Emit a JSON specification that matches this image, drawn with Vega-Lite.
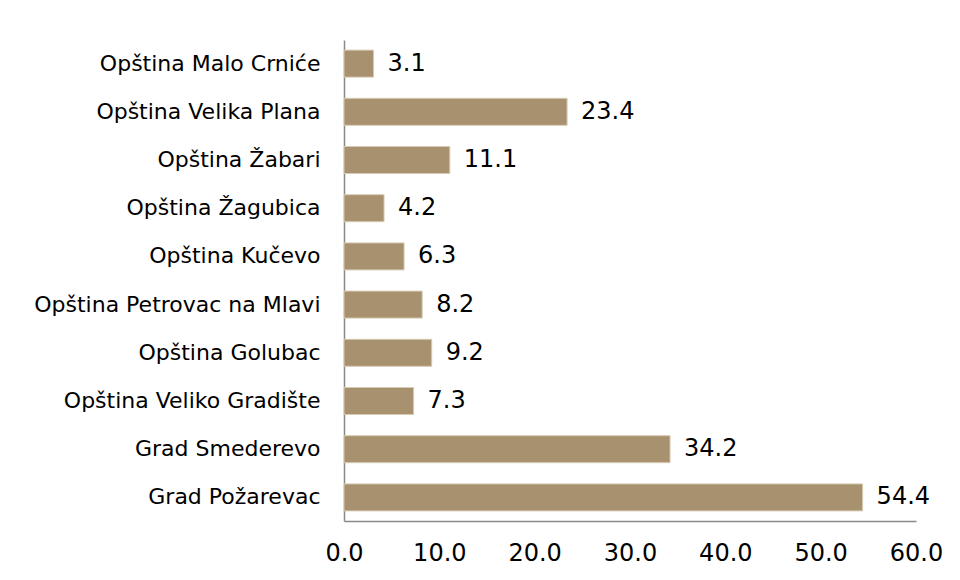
{
  "$schema": "https://vega.github.io/schema/vega-lite/v6.json",
  "width": 572,
  "height": 481,
  "autosize": {"type": "none"},
  "padding": {"left": 344, "top": 40, "right": 44, "bottom": 59},
  "background": "white",
  "data": {
    "values": [
      {"name": "Opština Malo Crniće", "value": 3.1},
      {"name": "Opština Velika Plana", "value": 23.4},
      {"name": "Opština Žabari", "value": 11.1},
      {"name": "Opština Žagubica", "value": 4.2},
      {"name": "Opština Kučevo", "value": 6.3},
      {"name": "Opština Petrovac na Mlavi", "value": 8.2},
      {"name": "Opština Golubac", "value": 9.2},
      {"name": "Opština Veliko Gradište", "value": 7.3},
      {"name": "Grad Smederevo", "value": 34.2},
      {"name": "Grad Požarevac", "value": 54.4}
    ]
  },
  "encoding": {
    "y": {
      "field": "name",
      "type": "nominal",
      "sort": null,
      "scale": {"paddingInner": 0.44, "paddingOuter": 0.21},
      "axis": {
        "title": null,
        "ticks": false,
        "domainColor": "#888888",
        "domainWidth": 1.5,
        "labelFont": "DejaVu Sans",
        "labelFontSize": 22,
        "labelFontWeight": "normal",
        "labelColor": "#000000",
        "labelPadding": 24,
        "labelLimit": 400
      }
    },
    "x": {
      "field": "value",
      "type": "quantitative",
      "scale": {"domain": [0, 60], "nice": false},
      "axis": {
        "title": null,
        "values": [0, 10, 20, 30, 40, 50, 60],
        "format": ".1f",
        "grid": false,
        "ticks": false,
        "labelFlush": false,
        "domainColor": "#888888",
        "domainWidth": 1.5,
        "labelFont": "DejaVu Sans",
        "labelFontSize": 24,
        "labelFontWeight": "normal",
        "labelColor": "#000000",
        "labelPadding": 20
      }
    }
  },
  "layer": [
    {
      "mark": {"type": "bar", "color": "#a8916e", "stroke": "#d8cab4", "strokeWidth": 1}
    },
    {
      "mark": {"type": "text", "align": "left", "baseline": "middle", "dx": 14, "font": "DejaVu Sans", "fontSize": 24, "color": "#000000"},
      "encoding": {"text": {"field": "value", "type": "quantitative", "format": ".1f"}}
    }
  ],
  "config": {"view": {"stroke": null}}
}
